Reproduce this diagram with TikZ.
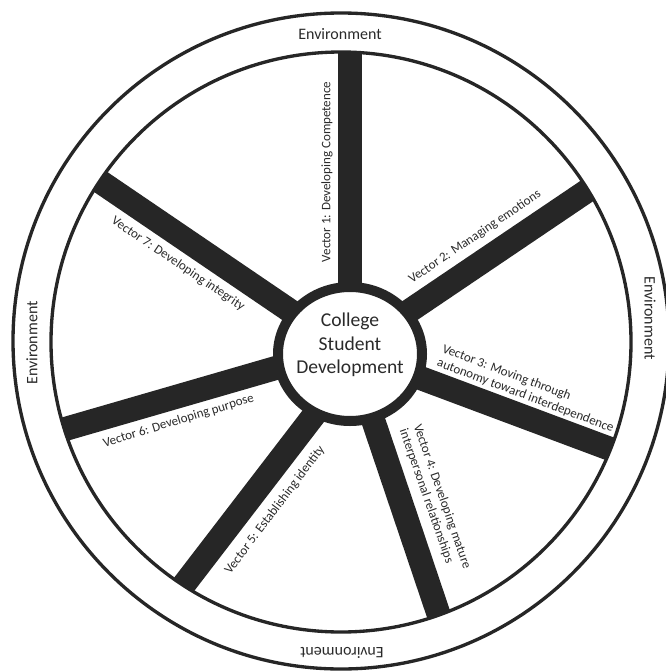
\documentclass[tikz,border=0pt]{standalone}
\usepackage{fontspec}
\setmainfont{Carlito}
\usetikzlibrary{shapes.geometric}

\definecolor{barcol}{HTML}{262626}
\definecolor{txtcol}{HTML}{2A2A2A}

\tikzset{
  rim/.style={draw=barcol, line width=2.5pt},
  spoke/.style={draw=barcol, line width=18pt},
  hubnode/.style={ellipse, draw=barcol, line width=7.5pt, fill=white, inner sep=0pt,
    minimum width=108pt, minimum height=100.5pt},
  hubtext/.style={inner sep=0.75pt, align=center, text=txtcol, font=\fontsize{14.7}{17.6}\selectfont},
  veclabel/.style={inner sep=0.75pt, text=txtcol, align=left, font=\fontsize{9.75}{11}\selectfont},
  envlabel/.style={inner sep=0.75pt, text=txtcol, font=\fontsize{12}{14}\selectfont},
}

\begin{document}
\begin{tikzpicture}[x=0.75pt,y=0.75pt,yscale=-1,xscale=1]
\useasboundingbox (0,0) rectangle (665,671);

%Shape: Circle [outer rim]
\draw[rim] (341,341) circle (328);
%Shape: Circle [inner rim]
\draw[rim] (341,342) circle (290);

% spoke ends: h = under the hub, e = past the inner rim
\coordinate (h1) at (350,354);   \coordinate (e1) at (350,30);
\coordinate (h2) at (350,351);   \coordinate (e2) at (620,168.6);
\coordinate (h3) at (350,351.7); \coordinate (e3) at (650.5,464);
\coordinate (h4) at (350.8,354); \coordinate (e4) at (451,651);
\coordinate (h5) at (361,354);   \coordinate (e5) at (151,627.5);
\coordinate (h6) at (350,346.5); \coordinate (e6) at (18.5,442.5);
\coordinate (h7) at (350,351.5); \coordinate (e7) at (72,162.5);

\begin{scope}
\clip (341,342) circle (290);
\foreach \a/\b in {h1/e1,h2/e2,h3/e3,h4/e4,h5/e5,h6/e6,h7/e7}
  \draw[spoke] (\a) -- (\b);
\end{scope}

% Hub
\node[hubnode] (hub) at (350,354) {};
% Text Node
\node[hubtext] (hubtxt) at (350,345) {College\\Student\\Development};

% Text Node
\node[envlabel] (envtop) at (340,34) {Environment};
% Text Node
\node[envlabel, rotate=180] (envbot) at (342,653) {Environment};
% Text Node
\node[envlabel, rotate=90] (envleft) at (32,343) {Environment};
% Text Node
\node[envlabel, rotate=-90] (envright) at (650,318) {Environment};

% Text Node
\node[veclabel, rotate=90] (v1) at (327,172) {Vector 1: Developing Competence};
% Text Node
\node[veclabel, rotate=34] (v2) at (475,237) {Vector 2: Managing emotions};
% Text Node
\node[veclabel, rotate=-20.7] (v3) at (528,389) {Vector 3: Moving through\\autonomy toward interdependence};
% Text Node
\node[veclabel, rotate=-70.7] (v4) at (435,499) {Vector 4: Developing mature\\interpersonal relationships};
% Text Node
\node[veclabel, rotate=53] (v5) at (275,510) {Vector 5: Establishing identity};
% Text Node
\node[veclabel, rotate=17] (v6) at (178.5,421) {Vector 6: Developing purpose};
% Text Node
\node[veclabel, rotate=-34] (v7) at (178,264) {Vector 7: Developing integrity};

\end{tikzpicture}
\end{document}
